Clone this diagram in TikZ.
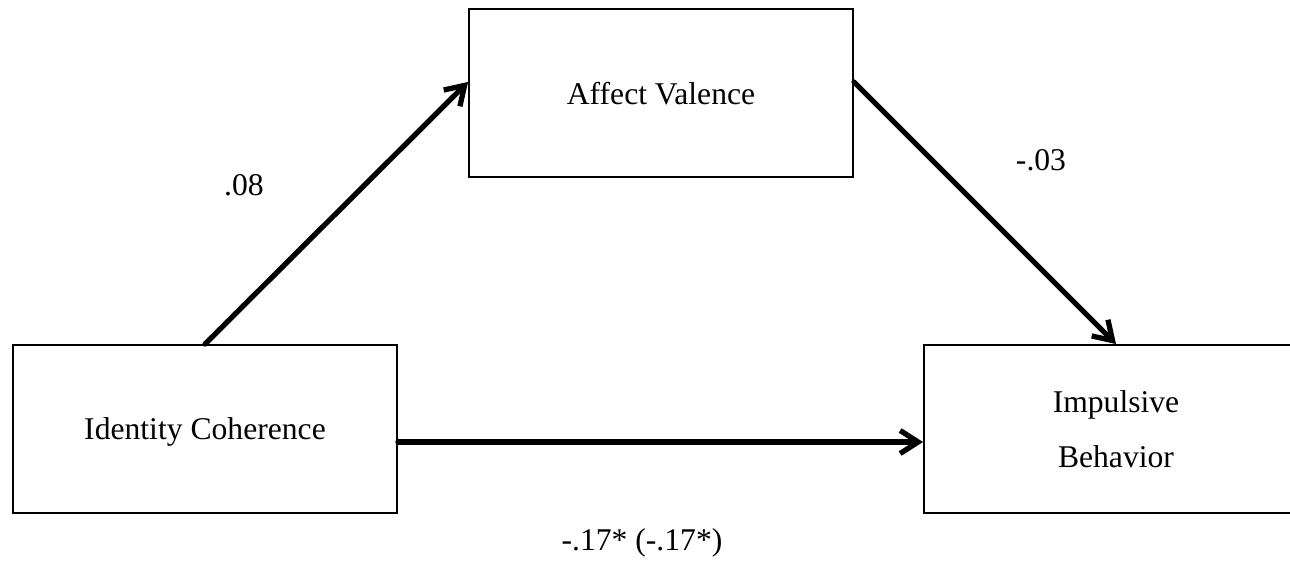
\documentclass[tikz,border=0pt]{standalone}
\usepackage{fontspec}
\setmainfont{Liberation Serif}
\usetikzlibrary{arrows.meta}

\begin{document}
\begin{tikzpicture}[>={Straight Barb[length=3.6mm, width=4.6mm]}, font=\fontsize{18}{31}\selectfont]
    \tikzstyle{var}=[draw, line width=1.1pt, minimum width=7.68cm, minimum height=3.36cm, align=center, inner sep=0pt, text depth=0pt]
    \tikzstyle{eff}=[->, line width=3pt, line cap=round]

    \useasboundingbox (0,0) rectangle (25.8,11.26);
    \clip (0,0) rectangle (25.8,11.26);

    \node[var] (idc) at (4.10,2.68) {Identity Coherence};
    \node[var] (aff) at (13.22,9.40) {Affect Valence};
    \node[var] (imp) at (22.32,2.68) {Impulsive\\ Behavior};

    \draw[eff] (idc.north) -- ([yshift=2.2mm]aff.west);
    \draw[eff] ([yshift=2.2mm]aff.east) -- (imp.north);
    \draw[eff] ([yshift=-2.6mm]idc.east) -- ([yshift=-2.6mm]imp.west);

    \node (ab) at (4.88,7.56) {.08};
    \node (bc) at (20.82,8.06) {-.03};
    \node (ac) at (12.84,0.40) {-.17* (-.17*)};
\end{tikzpicture}
\end{document}
